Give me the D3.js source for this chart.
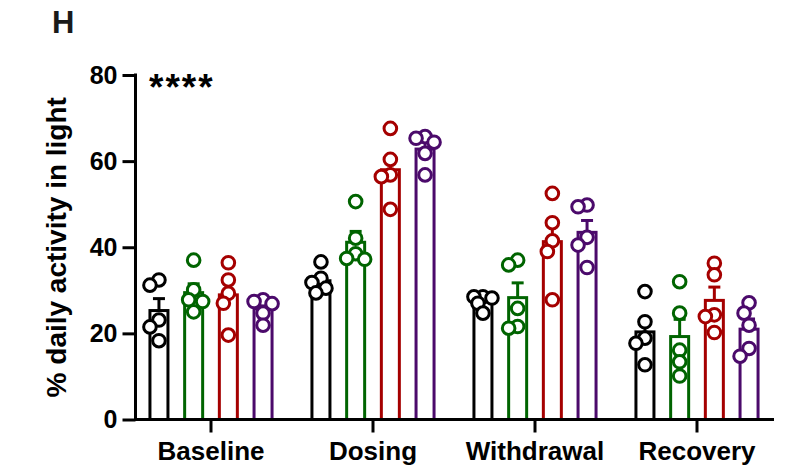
<!DOCTYPE html>
<html>
<head>
<meta charset="utf-8">
<script src="https://cdn.jsdelivr.net/npm/d3@7"></script>
<style>
  html, body { margin: 0; padding: 0; background: #fff; }
  svg { display: block; font-family: "Liberation Sans", Arial, sans-serif; }
</style>
</head>
<body>
<svg id="chart" width="785" height="468"></svg>
<script>
// Phases on the x axis
const categories = ["Baseline", "Dosing", "Withdrawal", "Recovery"];

// Individual animals (% of daily activity in the light phase), one array per phase
const groupBlack  = [[32.4, 31.2, 23.1, 21.5, 18.3], [36.6, 32.8, 31.8, 30.5, 29.4], [28.5, 28.5, 28.2, 27.0, 24.7], [29.7, 22.7, 18.9, 17.7, 12.7]];
const groupGreen  = [[37.0, 30.1, 27.8, 27.4, 25.0], [50.6, 42.1, 38.5, 37.4, 37.2], [37.0, 35.9, 25.8, 21.6, 21.2], [32.0, 24.7, 16.1, 13.4, 10.1]];
const groupRed    = [[36.4, 32.4, 29.3, 27.0, 19.6], [67.6, 60.4, 56.8, 56.4, 48.8], [52.5, 45.7, 41.5, 39.0, 27.8], [36.3, 33.6, 24.3, 23.9, 20.2]];
const groupPurple = [[27.8, 27.4, 26.9, 24.7, 21.9], [65.7, 65.3, 64.4, 61.8, 56.8], [49.8, 49.4, 42.3, 40.5, 35.3], [27.1, 24.7, 21.9, 16.5, 14.7]];

const seriesKeys = ["black", "green", "red", "purple"];
const seriesColors = ["#000000", "#006400", "#a50000", "#4b0a6b"];
const seriesData = [groupBlack, groupGreen, groupRed, groupPurple];

const yTicks = [0, 20, 40, 60, 80];
const yLabel = "% daily activity in light";
const panelLetter = "H";
const significance = "****";

const svg = d3.select("#chart");

const x = d3.scaleBand().domain(categories).range([130, 778]).paddingInner(0).paddingOuter(0);
const xs = d3.scaleBand().domain(seriesKeys).range([-69.4, 69.4]);
const y = d3.scaleLinear().domain([0, 80]).range([419.5, 75]);

const barW = 18;
const r = 6.3;

// summary statistics: mean and SEM
function stats(vals) {
  const m = d3.mean(vals);
  const sd = d3.deviation(vals);
  return { mean: m, sem: sd / Math.sqrt(vals.length) };
}

// horizontal spread of overlapping points within a bar
function dodge(vals) {
  const order = vals.map((v, i) => i).sort((a, b) => vals[b] - vals[a]);
  const placed = [];
  const out = new Array(vals.length).fill(0);
  const candidates = [0, -5, 5, -9, 9];
  order.forEach(i => {
    const py = y(vals[i]);
    let best = 0, bestD = -1;
    for (const c of candidates) {
      let minD = Infinity;
      placed.forEach(p => { minD = Math.min(minD, Math.hypot(p.x - c, p.y - py)); });
      if (minD >= 11) { best = c; bestD = Infinity; break; }
      if (minD > bestD) { bestD = minD; best = c; }
    }
    placed.push({ x: best, y: py });
    out[i] = best;
  });
  return out;
}

const rows = [];
seriesKeys.forEach((k, si) => {
  categories.forEach((c, ci) => {
    const vals = seriesData[si][ci];
    const s = stats(vals);
    rows.push({ key: k, color: seriesColors[si], cat: c, vals, mean: s.mean, sem: s.sem,
                cx: x(c) + x.bandwidth() / 2 + xs(k) + xs.bandwidth() / 2 });
  });
});

// bars
svg.append("g").selectAll("rect").data(rows).join("rect")
  .attr("x", d => d.cx - barW / 2)
  .attr("y", d => y(d.mean))
  .attr("width", barW)
  .attr("height", d => y(0) - y(d.mean))
  .attr("fill", "none")
  .attr("stroke", d => d.color)
  .attr("stroke-width", 3);

// error bars (mean + SEM)
const eb = svg.append("g").selectAll("g").data(rows).join("g")
  .attr("stroke", d => d.color).attr("stroke-width", 3).attr("fill", "none");
eb.append("line")
  .attr("x1", d => d.cx).attr("x2", d => d.cx)
  .attr("y1", d => y(d.mean)).attr("y2", d => y(d.mean + d.sem));
eb.append("line")
  .attr("x1", d => d.cx - 6).attr("x2", d => d.cx + 6)
  .attr("y1", d => y(d.mean + d.sem)).attr("y2", d => y(d.mean + d.sem));

// individual points
rows.forEach(d => {
  const off = dodge(d.vals);
  svg.append("g").selectAll("circle").data(d.vals).join("circle")
    .attr("cx", (v, i) => d.cx + off[i])
    .attr("cy", v => y(v))
    .attr("r", r)
    .attr("fill", "#fff")
    .attr("stroke", d.color)
    .attr("stroke-width", 3);
});

// y axis
const yAxis = svg.append("g")
  .attr("transform", "translate(135.5,0)")
  .call(d3.axisLeft(y).tickValues(yTicks).tickSize(13).tickSizeOuter(0).tickPadding(5));
yAxis.select(".domain").attr("stroke-width", 3).attr("d", `M0,${y(80) - 1.5}V${y(0) + 1.5}`);
yAxis.selectAll(".tick line").attr("stroke-width", 3);
yAxis.selectAll(".tick text")
  .attr("font-size", 25).attr("font-weight", "bold").attr("fill", "#000")
  .attr("font-family", "Liberation Sans, Arial, sans-serif");

// x axis
const xAxis = svg.append("g")
  .attr("transform", `translate(0,${y(0)})`)
  .call(d3.axisBottom(x).tickSize(13).tickSizeOuter(0).tickPadding(9));
xAxis.select(".domain").attr("stroke-width", 3).attr("d", "M134,0H774");
xAxis.selectAll(".tick line").attr("stroke-width", 3);
xAxis.selectAll(".tick text")
  .attr("font-size", 26).attr("font-weight", "bold").attr("fill", "#000")
  .attr("font-family", "Liberation Sans, Arial, sans-serif");

// y axis title
svg.append("text")
  .attr("transform", `translate(66,${(y(0) + y(80)) / 2 + 0}) rotate(-90)`)
  .attr("text-anchor", "middle")
  .attr("font-size", 28).attr("font-weight", "bold")
  .text(yLabel);

// panel letter
svg.append("text")
  .attr("x", 52).attr("y", 33)
  .attr("font-size", 31).attr("font-weight", "bold").attr("fill", "#1a1a1a")
  .text(panelLetter);

// significance marker
svg.append("text")
  .attr("x", 149).attr("y", 100)
  .attr("font-size", 37).attr("font-weight", "bold")
  .attr("letter-spacing", 2)
  .text(significance);
</script>
</body>
</html>
